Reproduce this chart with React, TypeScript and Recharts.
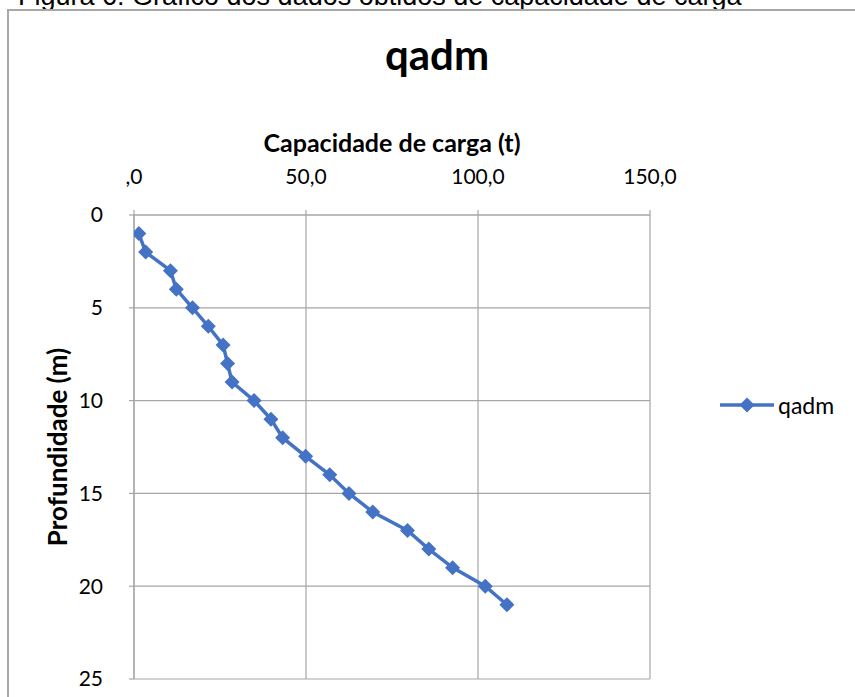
import React from 'react';
import { ScatterChart, Scatter, XAxis, YAxis, CartesianGrid, Legend } from 'recharts';

const depths = [1, 2, 3, 4, 5, 6, 7, 8, 9, 10, 11, 12, 13, 14, 15, 16, 17, 18, 19, 20, 21];
const qadm = [1.4, 3.4, 10.6, 12.3, 17.0, 21.6, 25.9, 27.2, 28.5, 34.9, 39.8, 43.2, 49.9, 56.9, 62.5, 69.4, 79.5, 85.7, 92.6, 102.1, 108.4];
const xTicks = [0, 50, 100, 150];
const yTicks = [0, 5, 10, 15, 20, 25];

const seriesName = 'qadm';
const chartTitle = 'qadm';
const xTitle = 'Capacidade de carga (t)';
const yTitle = 'Profundidade (m)';
const caption = 'Figura 6: Gráfico dos dados obtidos de capacidade de carga';

const data = depths.map((d, i) => ({ depth: d, q: qadm[i] }));

const BLUE = '#4472C4';
const GRID = '#a6a6a6';
const FONT = 'Lato, "Open Sans", sans-serif';

const fmtX = (v: number) => (v === 0 ? ',0' : v.toFixed(1).replace('.', ','));

const Diamond = (props: any) => {
  const { cx, cy } = props;
  if (cx == null || cy == null) return null;
  const r = 7.5;
  return <path d={`M${cx},${cy - r}L${cx + r},${cy}L${cx},${cy + r}L${cx - r},${cy}Z`} fill={BLUE} />;
};

const LegendContent = () => (
  <div style={{ display: 'flex', alignItems: 'center', fontFamily: FONT, fontSize: 23, color: '#000' }}>
    <svg width={58} height={20}>
      <line x1={2} y1={10} x2={56} y2={10} stroke={BLUE} strokeWidth={3.5} />
      <path d="M29,2.5L36.5,10L29,17.5L21.5,10Z" fill={BLUE} />
    </svg>
    <span style={{ marginLeft: 2 }}>{seriesName}</span>
  </div>
);

export default function App() {
  return (
    <div style={{ position: 'absolute', left: 0, top: 0, width: 855, height: 697, overflow: 'hidden', background: '#fff' }}>
      <svg width={855} height={697} style={{ position: 'absolute', left: 0, top: 0 }}>
        <text x={18} y={5} fontFamily='"Liberation Sans", Arial, sans-serif' fontSize={27} fill="#000">{caption}</text>
        <rect x={8} y={10} width={900} height={800} fill="#fff" stroke="#a8a8a8" strokeWidth={2} />
        <text x={437} y={70} textAnchor="middle" fontFamily={FONT} fontWeight={700} fontSize={42} fill="#000">{chartTitle}</text>
      </svg>
      <div style={{ position: 'absolute', left: 0, top: 0 }}>
        <ScatterChart width={855} height={697} margin={{ top: 155, left: 34, right: 205, bottom: 18 }}>
          <CartesianGrid stroke={GRID} strokeWidth={1.2} />
          <XAxis
            type="number"
            dataKey="q"
            orientation="top"
            domain={[0, 150]}
            ticks={xTicks}
            tickFormatter={fmtX}
            height={60}
            tickSize={5}
            tickMargin={26}
            axisLine={{ stroke: GRID, strokeWidth: 1.2 }}
            tickLine={{ stroke: GRID, strokeWidth: 1.2 }}
            tick={{ fill: '#000', fontSize: 21, fontFamily: FONT }}
            allowDataOverflow
            label={{ value: xTitle, position: 'top', offset: 3, style: { fill: '#000', fontSize: 25, fontWeight: 700, fontFamily: FONT } }}
          />
          <YAxis
            type="number"
            dataKey="depth"
            reversed
            domain={[0, 25]}
            ticks={yTicks}
            width={100}
            tickSize={5}
            tickMargin={26}
            axisLine={{ stroke: GRID, strokeWidth: 1.2 }}
            tickLine={{ stroke: GRID, strokeWidth: 1.2 }}
            tick={{ fill: '#000', fontSize: 21, fontFamily: FONT }}
            allowDataOverflow
            label={{ value: yTitle, angle: -90, position: 'insideLeft', offset: 24, style: { textAnchor: 'middle', fill: '#000', fontSize: 26, fontWeight: 700, fontFamily: FONT } }}
          />
          <Legend
            layout="horizontal"
            align="center"
            verticalAlign="middle"
            content={<LegendContent />}
            wrapperStyle={{ position: 'absolute', left: 718, top: 391, width: 140 }}
          />
          <Scatter
            name={seriesName}
            data={data}
            fill={BLUE}
            line={{ stroke: BLUE, strokeWidth: 3.5 }}
            lineType="joint"
            shape={<Diamond />}
            isAnimationActive={false}
          />
        </ScatterChart>
      </div>
    </div>
  );
}
